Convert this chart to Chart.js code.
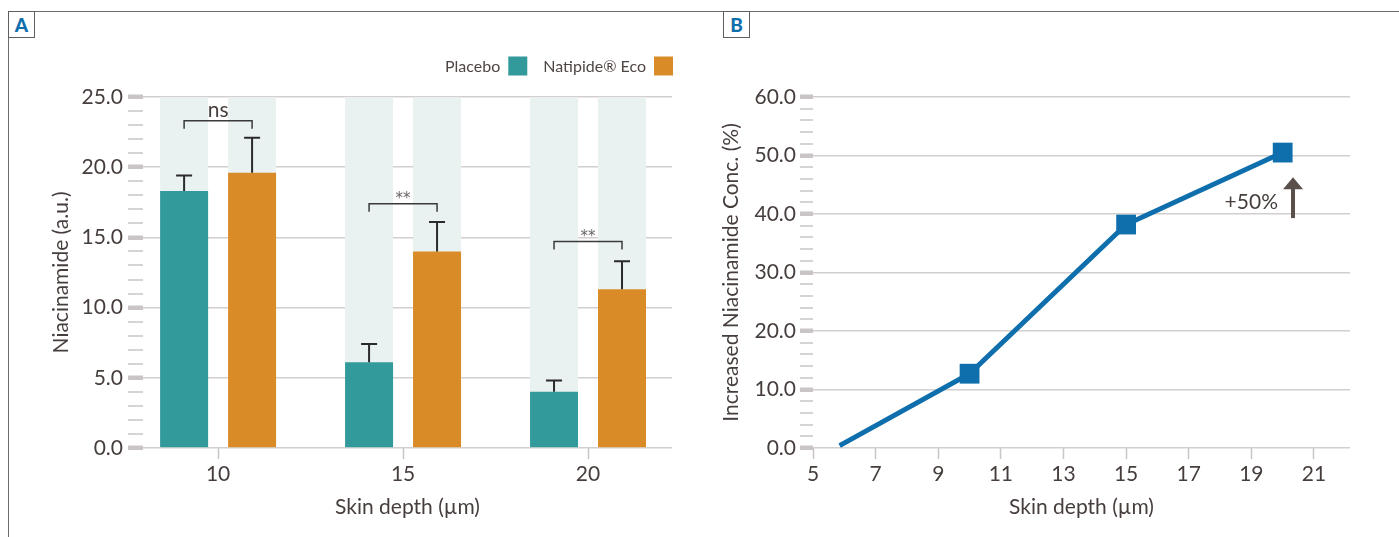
<!DOCTYPE html>
<html>
<head>
<meta charset="utf-8">
<script src="https://cdn.jsdelivr.net/npm/chart.js@4.4.1/dist/chart.umd.min.js"></script>
<style>
  body { margin: 0; background: #fff; width: 1399px; height: 537px; overflow: hidden; position: relative; }
  canvas { position: absolute; top: 0; }
  #chartA { left: 0; }
  #chartB { left: 700px; }
  .frameTop { position: absolute; left: 8px; top: 11px; width: 1391px; height: 1px; background: #6b6b6b; }
  .frameLeft { position: absolute; left: 8px; top: 11px; width: 1px; height: 526px; background: #6b6b6b; }
  .tag { position: absolute; top: 11px; width: 27px; height: 27px; box-sizing: border-box; border: 1px solid #5f5f5f;
         color: #0f6fad; font: 900 19px Lato, sans-serif; display: flex; align-items: center; justify-content: center; background: #fff; }
</style>
</head>
<body>
<div class="frameTop"></div>
<div class="frameLeft"></div>
<canvas id="chartA" width="710" height="537"></canvas>
<canvas id="chartB" width="699" height="537"></canvas>
<div class="tag" style="left:8px">A</div>
<div class="tag" style="left:723px">B</div>
<script>
// Panel A: niacinamide at each skin depth
const depthA = [10, 15, 20];
const placebo = [18.3, 6.1, 4.0];
const placeboErr = [19.4, 7.4, 4.8];
const natipide = [19.6, 14.0, 11.3];
const natipideErr = [22.1, 16.1, 13.3];
const shadeTop = [25, 25, 25];
const sigLabels = ['ns', '**', '**'];
const sigLevels = [23.3, 17.4, 14.7];
const yMajorA = [0, 5, 10, 15, 20, 25];

// Panel B: increase of niacinamide concentration
const depthB = [5.85, 10, 15, 20];
const increase = [0.4, 12.7, 38.2, 50.5];
const xTicksB = [5, 7, 9, 11, 13, 15, 17, 19, 21];
const yMajorB = [0, 10, 20, 30, 40, 50, 60];

const TEAL = '#329a9b';
const ORANGE = '#d98b27';
const SHADE = '#e9f2f1';
const INK = '#463e3c';
const GRID = '#d3cfce';
const TICK = '#c9c5c4';
const BLUE = '#0f6fad';
const FONT = { family: 'Lato', size: 21 };

function yAxis(max, step, majors, width, tl, pad, title, titlePad) {
  const isMajor = c => c.tick && majors.includes(c.tick.value);
  return {
    min: 0, max: max, stacked: false,
    afterFit: s => { s.width = width; },
    border: { display: false },
    grid: {
      color: c => isMajor(c) ? GRID : 'rgba(0,0,0,0)',
      lineWidth: c => isMajor(c) ? 1.5 : 0,
      tickLength: tl,
      tickColor: TICK,
      tickWidth: c => isMajor(c) ? 4.5 : 1.5
    },
    ticks: {
      stepSize: step, autoSkip: false, padding: pad, color: INK, font: FONT,
      callback: v => majors.includes(v) ? v.toFixed(1) : ''
    },
    title: { display: true, text: title, color: INK, font: FONT, padding: { top: titlePad, bottom: 0 } }
  };
}

function xAxis(min, max, ticks) {
  return {
    type: 'linear', min: min, max: max, offset: false,
    afterBuildTicks: s => { s.ticks = ticks.map(v => ({ value: v })); },
    afterFit: s => { s.height = 89; },
    border: { display: false },
    grid: { offset: false, drawOnChartArea: false, tickLength: 11, tickColor: TICK, tickWidth: 1.5 },
    ticks: { padding: 3, color: INK, font: FONT, autoSkip: false, maxRotation: 0, callback: v => String(v) },
    title: { display: true, text: 'Skin depth (µm)', color: INK, font: FONT, padding: { top: 0, bottom: 17 } }
  };
}

// error bars, significance brackets and legend for panel A
const extrasA = {
  id: 'extrasA',
  afterDatasetsDraw(chart) {
    const ctx = chart.ctx;
    const y = chart.scales.y;
    const mp = chart.getDatasetMeta(0);
    const mn = chart.getDatasetMeta(1);
    ctx.save();
    ctx.strokeStyle = '#2b2b2b';
    ctx.lineWidth = 2;
    [[mp, placebo, placeboErr], [mn, natipide, natipideErr]].forEach(([meta, val, err]) => {
      meta.data.forEach((bar, i) => {
        const base = y.getPixelForValue(val[i]);
        const top = y.getPixelForValue(err[i]);
        ctx.beginPath();
        ctx.moveTo(bar.x, base);
        ctx.lineTo(bar.x, top);
        ctx.moveTo(bar.x - 8, top);
        ctx.lineTo(bar.x + 8, top);
        ctx.stroke();
      });
    });

    ctx.lineWidth = 1.5;
    ctx.strokeStyle = '#3a3a3a';
    ctx.textAlign = 'center';
    ctx.textBaseline = 'alphabetic';
    sigLevels.forEach((lvl, i) => {
      const x1 = mp.data[i].x, x2 = mn.data[i].x;
      const yy = y.getPixelForValue(lvl);
      ctx.beginPath();
      ctx.moveTo(x1, yy + 8);
      ctx.lineTo(x1, yy);
      ctx.lineTo(x2, yy);
      ctx.lineTo(x2, yy + 8);
      ctx.stroke();
      if (sigLabels[i] === 'ns') {
        ctx.font = '21px Lato';
        ctx.fillStyle = INK;
        ctx.fillText(sigLabels[i], (x1 + x2) / 2, yy - 4);
      } else {
        ctx.font = '15px "DejaVu Sans"';
        ctx.fillStyle = '#6a6463';
        ctx.fillText(sigLabels[i], (x1 + x2) / 2, yy - 1);
      }
    });
    ctx.restore();
  },
  afterDraw(chart) {
    const ctx = chart.ctx;
    const items = chart.data.datasets.filter(d => !d.shade);
    ctx.save();
    ctx.font = '16px Lato';
    ctx.textBaseline = 'middle';
    ctx.textAlign = 'right';
    let x = chart.chartArea.right + 1;
    const yc = 66;
    for (let i = items.length - 1; i >= 0; i--) {
      const d = items[i];
      ctx.fillStyle = d.backgroundColor;
      ctx.fillRect(x - 19, yc - 9.5, 19, 19);
      ctx.fillStyle = '#4f4644';
      ctx.fillText(d.label, x - 27, yc + 1);
      x = x - 27 - ctx.measureText(d.label).width - 16;
    }
    ctx.restore();
  }
};

new Chart(document.getElementById('chartA'), {
  type: 'bar',
  data: {
    labels: depthA,
    datasets: [
      { label: 'Placebo', data: placebo, backgroundColor: TEAL, stack: 'p', order: 1 },
      { label: 'Natipide® Eco', data: natipide, backgroundColor: ORANGE, stack: 'n', order: 1 },
      { label: 'shadeP', shade: true, data: shadeTop, backgroundColor: SHADE, stack: 'p', order: 2 },
      { label: 'shadeN', shade: true, data: shadeTop, backgroundColor: SHADE, stack: 'n', order: 2 }
    ]
  },
  options: {
    responsive: false,
    animation: false,
    devicePixelRatio: 1,
    categoryPercentage: 0.735,
    barPercentage: 0.706,
    layout: { padding: { top: 97, right: 38, left: 0, bottom: 0 } },
    plugins: { legend: { display: false }, tooltip: { enabled: false } },
    scales: {
      x: xAxis(7.97, 22.27, depthA),
      y: yAxis(25, 1, yMajorA, 143, 15, 5, 'Niacinamide (a.u.)', 49)
    }
  },
  plugins: [extrasA]
});

// +50% note with arrow for panel B
const noteB = {
  id: 'noteB',
  afterDatasetsDraw(chart) {
    const ctx = chart.ctx;
    const xs = chart.scales.x, ys = chart.scales.y;
    const ax = xs.getPixelForValue(20.33);
    const aBot = ys.getPixelForValue(39.3);
    const aTip = ys.getPixelForValue(46.3);
    ctx.save();
    ctx.fillStyle = '#5b4f4b';
    ctx.fillRect(ax - 2, aTip + 10, 4, aBot - aTip - 10);
    ctx.beginPath();
    ctx.moveTo(ax, aTip);
    ctx.lineTo(ax + 10, aTip + 12);
    ctx.lineTo(ax - 10, aTip + 12);
    ctx.closePath();
    ctx.fill();
    ctx.font = '21px Lato';
    ctx.fillStyle = INK;
    ctx.textAlign = 'right';
    ctx.textBaseline = 'middle';
    ctx.fillText('+50%', xs.getPixelForValue(19.85), ys.getPixelForValue(42.0));
    ctx.restore();
  }
};

new Chart(document.getElementById('chartB'), {
  type: 'line',
  data: {
    datasets: [{
      label: 'Increased Niacinamide Conc. (%)',
      data: depthB.map((x, i) => ({ x: x, y: increase[i] })),
      borderColor: BLUE,
      backgroundColor: BLUE,
      borderWidth: 5,
      pointStyle: 'rect',
      pointRadius: [0, 14, 14, 14],
      pointBorderWidth: 0,
      tension: 0
    }]
  },
  options: {
    responsive: false,
    animation: false,
    devicePixelRatio: 1,
    layout: { padding: { top: 97, right: 49, left: 0, bottom: 0 } },
    plugins: { legend: { display: false }, tooltip: { enabled: false } },
    scales: {
      x: xAxis(5, 22.15, xTicksB),
      y: yAxis(60, 2, yMajorB, 113, 13, 4, 'Increased Niacinamide Conc. (%)', 19)
    }
  },
  plugins: [noteB]
});
</script>
</body>
</html>
